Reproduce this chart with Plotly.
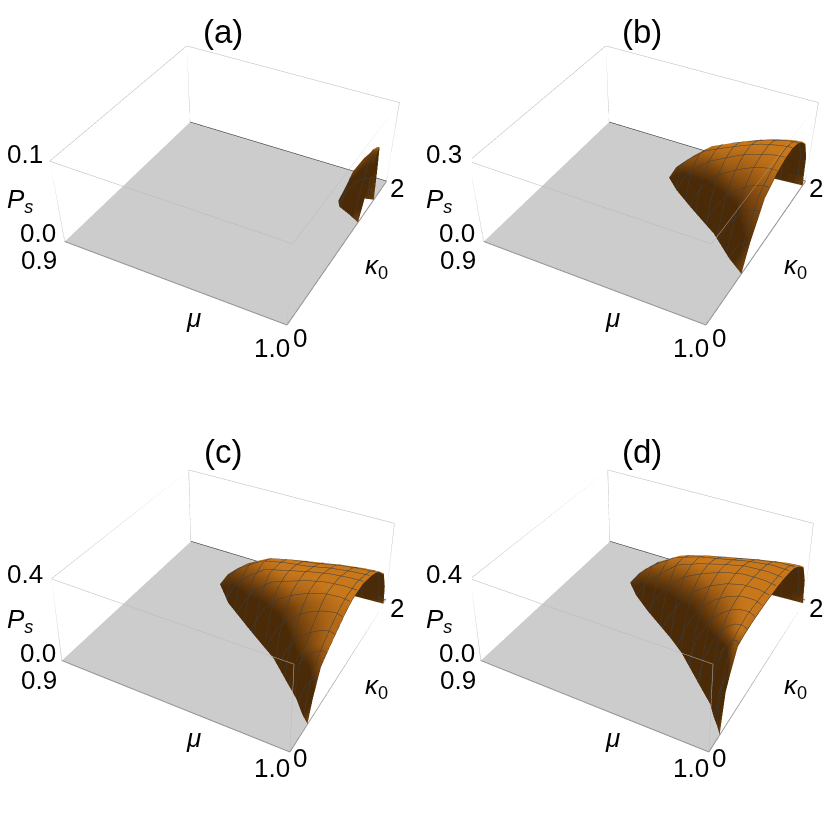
import numpy as np
import plotly.graph_objects as go

s_grid = [0, .06, .15, .3, .45, .6, .75, .9, 1]
mu_range = [0.9, 1.0]
kappa_range = [0, 2]

kappa_a = [1.35, 1.42, 1.47, 1.54, 1.6, 1.64, 1.67, 1.70]
mumin_a = [1, .994, .989, .987, .987, .99, .995, 1]
z_a = [[0]*9,
 [0,.004,.008,.013,.016,.018,.019,.02,.02],
 [0,.006,.012,.02,.026,.031,.034,.036,.037],
 [0,.007,.016,.03,.039,.046,.051,.054,.055],
 [0,.009,.02,.038,.048,.058,.064,.068,.069],
 [0,.01,.022,.04,.051,.061,.068,.072,.073],
 [0,.006,.013,.024,.031,.037,.041,.044,.045],
 [0]*9]

kappa_b = [.63,.75,.97,1.19,1.35,1.48,1.6,1.72,1.82,1.9,1.93]
mumin_b = [1,.992,.98,.964,.953,.946,.947,.952,.962,.985,1]
z_b = [[0]*9,
 [0,.015,.03,.05,.065,.075,.085,.09,.09],
 [0,.035,.07,.115,.15,.175,.19,.20,.20],
 [0,.05,.095,.15,.18,.205,.225,.235,.235],
 [0,.05,.095,.15,.18,.21,.23,.245,.248],
 [0,.05,.09,.145,.175,.205,.23,.245,.25],
 [0,.045,.085,.14,.17,.195,.22,.235,.24],
 [0,.04,.075,.125,.155,.18,.20,.215,.22],
 [0,.03,.06,.105,.13,.155,.175,.185,.19],
 [0,.015,.03,.06,.08,.095,.105,.115,.12],
 [0]*9]

kappa_c = [.30,.38,.5,.65,.83,.96,1.085,1.3,1.51,1.62,1.72,1.85,1.92,1.94]
mumin_c = [1,.996,.991,.983,.9735,.964,.955,.94,.93,.931,.935,.95,.985,1]
z_c = [[0]*9,
 [0,.02,.04,.06,.075,.085,.095,.10,.10],
 [0,.04,.08,.12,.15,.175,.19,.20,.20],
 [0,.05,.105,.15,.185,.21,.23,.24,.235],
 [0,.06,.125,.18,.22,.25,.27,.28,.27],
 [0,.06,.13,.20,.245,.275,.295,.305,.295],
 [0,.07,.15,.22,.26,.29,.31,.315,.31],
 [0,.075,.15,.225,.25,.28,.30,.31,.31],
 [0,.07,.13,.20,.225,.24,.265,.28,.285],
 [0,.065,.12,.18,.205,.22,.245,.26,.265],
 [0,.055,.10,.155,.18,.20,.22,.235,.24],
 [0,.035,.07,.115,.135,.155,.175,.19,.19],
 [0,.015,.03,.055,.07,.08,.09,.10,.10],
 [0]*9]

kappa_d = [.18,.25,.32,.43,.55,.7,.85,.97,1.2,1.35,1.49,1.6,1.7,1.78,1.85,1.93,1.95]
mumin_d = [1,.9975,.9945,.9905,.984,.976,.968,.96,.943,.933,.926,.9265,.93,.935,.945,.985,1]
z_d = [[0]*9,
 [0,.04,.08,.115,.135,.155,.17,.178,.18],
 [0,.06,.11,.16,.195,.22,.235,.245,.24],
 [0,.07,.14,.21,.265,.30,.32,.33,.32],
 [0,.07,.145,.225,.28,.315,.335,.34,.33],
 [0,.07,.15,.235,.29,.325,.345,.35,.335],
 [0,.065,.15,.24,.295,.33,.35,.352,.336],
 [0,.065,.145,.24,.295,.33,.35,.35,.336],
 [0,.07,.15,.24,.285,.32,.34,.34,.33],
 [0,.07,.14,.23,.27,.30,.325,.33,.322],
 [0,.065,.13,.21,.25,.275,.30,.315,.31],
 [0,.06,.12,.19,.225,.25,.275,.295,.295],
 [0,.05,.105,.17,.20,.225,.25,.27,.27],
 [0,.045,.09,.15,.18,.20,.225,.245,.25],
 [0,.04,.075,.13,.155,.18,.20,.22,.225],
 [0,.02,.04,.07,.09,.105,.12,.13,.13],
 [0]*9]

panels = [("(a)", kappa_a, mumin_a, z_a, 0.1, "0.1"),
          ("(b)", kappa_b, mumin_b, z_b, 0.3, "0.3"),
          ("(c)", kappa_c, mumin_c, z_c, 0.4, "0.4"),
          ("(d)", kappa_d, mumin_d, z_d, 0.4, "0.4")]

W, H = 830, 832
VH = 689
views = [(0, 464, 0), (472, 830, 0), (0, 464, H-VH), (472, 830, H-VH)]
offs = [(0, 0), (419, 0), (0, 420), (419, 420)]
p_top = [1.499, -2.7803, 2.2249, -0.1216, 0.2248, -1.4202, 1.1214, 1.1276, 0.4325]
p_bot = [0.9155, -1.6852, 1.3944, -0.155, 0.2858, 0.1526, 0.6945, 0.6921, 0.2748]
shade_scale = [[0, "#4a2a07"], [.45, "#80490f"], [1, "#c8771a"]]

def shade(X, Y, Z, zm):
    xs, ys, zs = (X-.9)/.1, Y/2, .4*Z/zm
    du = np.stack([np.gradient(a, axis=0) for a in (xs, ys, zs)], -1)
    dv = np.stack([np.gradient(a, axis=1) for a in (xs, ys, zs)], -1)
    N = np.cross(dv, du)
    L = np.linalg.norm(N, axis=-1, keepdims=True)
    N = np.where(L > 1e-9, N/np.maximum(L, 1e-9), [0, 0, 1.0])
    N = np.where(N[..., 2:3] < 0, -N, N)
    lt = np.array([.05, .45, 1.0]); lt /= np.linalg.norm(lt)
    return np.clip(N@lt, 0, 1)**.6*(.5+.5*np.clip(Z/(.55*zm), 0, 1))

fig = go.Figure()
edges_light = [((.9,0,1),(1,0,1)),((1,0,1),(1,2,1)),((1,2,1),(.9,2,1)),((.9,2,1),(.9,0,1)),
               ((.9,0,0),(.9,0,1)),((1,0,0),(1,0,1)),((1,2,0),(1,2,1)),((.9,2,0),(.9,2,1))]
edges_mid = [((.9,0,0),(1,0,0)),((1,0,0),(1,2,0))]
edges_dark = [((.9,2,0),(1,2,0))]
def seglines(edges, zm):
    xs, ys, zs = [], [], []
    for a, b in edges:
        xs += [a[0], b[0], None]; ys += [a[1], b[1], None]; zs += [a[2]*zm, b[2]*zm, None]
    return xs, ys, zs
ann = []
def lab(i, txt, x, y, size):
    ox, oy = offs[i]
    ann.append(dict(text=txt, x=(x+ox)/W, y=1-(y+oy)/H, xref="paper", yref="paper", showarrow=False,
                    xanchor="center", yanchor="middle",
                    font=dict(family="Liberation Sans", size=size, color="black")))
flat = dict(ambient=1, diffuse=0, specular=0, fresnel=0)
for i, (title, kap, mm, zz, zm, zl) in enumerate(panels):
    sc = "scene" if i == 0 else f"scene{i+1}"
    kap = np.array(kap); mm = np.array(mm); zz = np.array(zz, float)
    s = np.array(s_grid)
    X = mm[:, None] + (1-mm[:, None])*s[None, :]
    Y = np.repeat(kap[:, None], len(s), axis=1)
    fk = np.r_[0, kap, 2]; fm = np.r_[1, mm, 1]
    FX = np.c_[np.full(fk.size, .9), fm]; FY = np.c_[fk, fk]
    fig.add_trace(go.Surface(x=FX, y=FY, z=np.zeros_like(FX), scene=sc, showscale=False, hoverinfo="skip",
        colorscale=[[0, "#cccccc"], [1, "#cccccc"]], cmin=0, cmax=1, lighting=flat))
    fig.add_trace(go.Surface(x=X, y=Y, z=np.maximum(zz-.012*zm, 0), scene=sc, showscale=False, hoverinfo="skip",
        colorscale=[[0, "#4a2a07"], [1, "#4a2a07"]], cmin=0, cmax=1, lighting=flat))
    fig.add_trace(go.Surface(x=X, y=Y, z=zz, surfacecolor=shade(X, Y, zz, zm), scene=sc, showscale=False,
        hoverinfo="skip", colorscale=shade_scale, cmin=.15, cmax=.92, lighting=flat,
        contours=dict(
            x=dict(show=True, start=.9, end=1, size=.0075, color="#383f44", width=3),
            y=dict(show=True, start=0, end=2, size=.15, color="#383f44", width=3))))
    for edges, col, wd in ((edges_light, "#b8b8b8", 1), (edges_mid, "#909090", 2), (edges_dark, "#303030", 2)):
        xs, ys, zs = seglines(edges, zm)
        fig.add_trace(go.Scatter3d(x=xs, y=ys, z=zs, mode="lines", scene=sc, showlegend=False, hoverinfo="skip",
                                   line=dict(color=col, width=wd)))
    x0, x1, y0 = views[i]
    p = p_top if i < 2 else p_bot
    ax = dict(visible=False, showspikes=False)
    fig.update_layout({sc: dict(
        domain=dict(x=[x0/W, x1/W], y=[1-(y0+VH)/H, 1-y0/H]),
        bgcolor="rgba(0,0,0,0)",
        xaxis=dict(range=mu_range, **ax), yaxis=dict(range=kappa_range, **ax), zaxis=dict(range=[0, zm], **ax),
        aspectmode="manual", aspectratio=dict(x=p[6], y=p[7], z=p[8]),
        camera=dict(eye=dict(x=p[0], y=p[1], z=p[2]), center=dict(x=p[3], y=p[4], z=p[5]),
                    up=dict(x=0, y=0, z=1), projection=dict(type="perspective")))})
    lab(i, title, 223, 32, 33)
    lab(i, zl, 25, 154, 26)
    lab(i, "<i>P<sub>s</sub></i>", 20, 200, 26)
    lab(i, "0.0", 38, 233, 26)
    lab(i, "0.9", 39, 260, 26)
    lab(i, "<i>μ</i>", 193, 318, 26)
    lab(i, "1.0", 272, 348, 26)
    lab(i, "0", 300, 338, 26)
    lab(i, "2", 397, 188, 26)
    lab(i, "<i>κ</i><sub>0</sub>", 376, 266, 26)
fig.update_layout(width=W, height=H, margin=dict(l=0, r=0, t=0, b=0), paper_bgcolor="white",
                  showlegend=False, annotations=ann)
fig.write_html("out.html", config=dict(displayModeBar=False),
               post_script="document.body.style.margin='0';document.documentElement.style.overflow='hidden';")
